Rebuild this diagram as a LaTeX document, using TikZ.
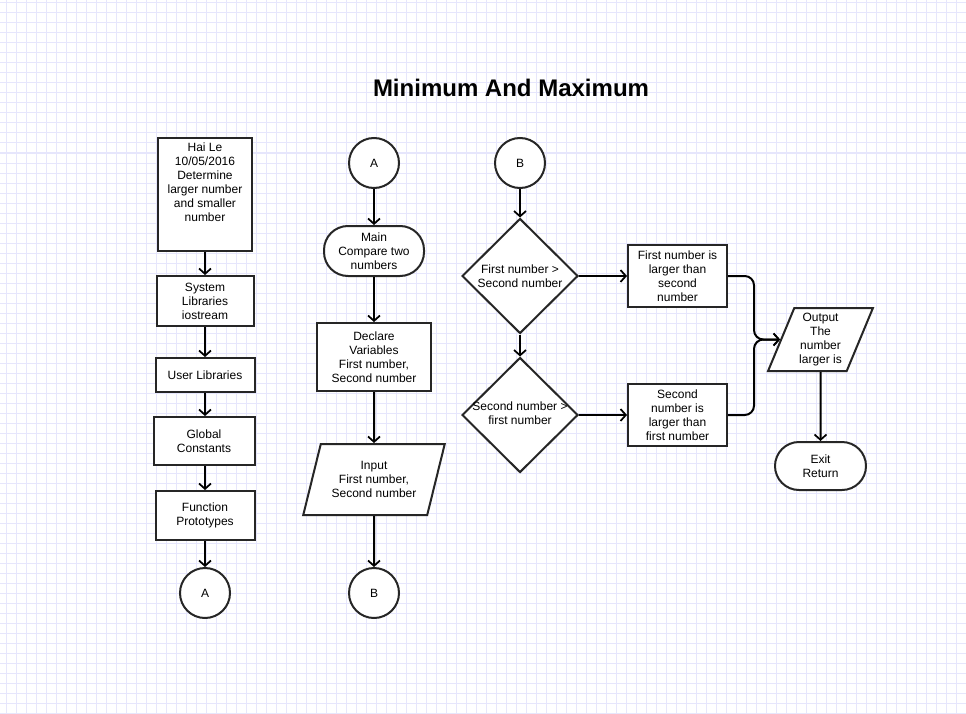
\documentclass[tikz,border=0pt]{standalone}
\usepackage{fontspec}
\setmainfont{Liberation Sans}
\usetikzlibrary{arrows.meta,shapes.geometric}
\definecolor{gridc}{RGB}{230,230,252}
\tikzset{
  x=0.75pt, y=-0.75pt,
  every node/.style={font=\fontsize{9}{10.5}\selectfont, align=center, inner sep=0pt},
  shp/.style={draw=black!85, line width=1.5pt, fill=white},
  box/.style={shp, rectangle},
  term/.style={shp, rectangle, rounded corners=18pt},
  conn/.style={shp, circle, minimum size=37.5pt},
  dia/.style={shp, diamond, minimum width=87pt, minimum height=86.25pt},
  para/.style={shp, trapezium, trapezium stretches=true},
  arr/.style={line width=1.5pt, draw=black, -{Straight Barb[length=4pt,width=9pt,line width=1.3pt]}},
}
\begin{document}
\begin{tikzpicture}
\useasboundingbox (0,0) rectangle (966,713);
\fill[white] (0,0) rectangle (966,713);
\foreach \i in {0,...,96} { \draw[gridc, line width=0.75pt] (6+10*\i,0) -- (6+10*\i,713); }
\foreach \i in {0,...,71} { \draw[gridc, line width=0.75pt] (0,3+10*\i) -- (966,3+10*\i); }

\node[font=\bfseries\fontsize{18}{21}\selectfont] (title) at (511,88) {Minimum And Maximum};

% column 1
\node[box, minimum width=70.5pt, minimum height=84.75pt] (info) at (205,194.5) {};
\node[anchor=north] (infot) at ([yshift=-4pt]info.north) {Hai Le\\10/05/2016\\Determine\\larger number\\and smaller\\number};
\node[box, minimum width=72.75pt, minimum height=37.5pt] (sys) at (205,301) {System\\Libraries\\iostream};
\node[box, minimum width=74.25pt, minimum height=25.5pt] (usr) at (205,375) {User Libraries};
\node[box, minimum width=75.75pt, minimum height=36pt] (glob) at (204,441) {Global\\Constants};
\node[box, minimum width=74.25pt, minimum height=36.75pt] (proto) at (205,515.5) {Function\\Prototypes};
\node[conn] (a1) at (205,593) {A};

\draw[arr] (info.south) -- (sys.north);
\draw[arr] (sys.south) -- (usr.north);
\draw[arr] (usr.south) -- (usr.south |- glob.north);
\draw[arr] (usr.south |- glob.south) -- (usr.south |- proto.north);
\draw[arr] (proto.south) -- (a1.north);

% column 2
\node[conn] (a2) at (374,163) {A};
\node[term, minimum width=75pt, minimum height=37.5pt] (main) at (374,251) {Main\\Compare two\\numbers};
\node[box, minimum width=85.5pt, minimum height=51pt] (decl) at (374,357) {Declare\\Variables\\First number,\\Second number};
\node[para, minimum width=106.5pt, minimum height=53.25pt, trapezium left angle=69, trapezium right angle=111] (inp) at (374,479.5) {Input\\First number,\\Second number};
\node[conn] (b1) at (374,593) {B};

\draw[arr] (a2.south) -- (main.north);
\draw[arr] (main.south) -- (decl.north);
\draw[arr] (decl.south) -- (inp.north);
\draw[arr] (inp.south) -- (b1.north);

% column 3
\node[conn] (b2) at (520,163) {B};
\node[dia] (d1) at (520,276) {};
\node (d1t) at (d1.center) {First number >\\Second number};
\node[dia] (d2) at (520,415) {};
\node (d2t) at ([yshift=1pt]d2.center) {Second number >\\first number};
\node[box, minimum width=74.25pt, minimum height=46.5pt] (r1) at (677.5,276) {First number is\\larger than\\second\\number};
\node[box, minimum width=74.25pt, minimum height=46.5pt] (r2) at (677.5,415) {Second\\number is\\larger than\\first number};
\node[para, minimum width=78.75pt, minimum height=47.25pt, trapezium left angle=68, trapezium right angle=112] (out) at (820.5,339.5) {Output\\The\\number\\larger is};
\node[term, minimum width=68.25pt, minimum height=36pt] (exit) at (820.5,466) {Exit\\Return};
\coordinate (j) at (754,339.5);

\draw[arr] (b2.south) -- (d1.north);
\draw[arr] (d1.south) -- (d2.north);
\draw[arr] (d1.east) -- (r1.west);
\draw[arr] (d2.east) -- (r2.west);
\draw[arr, rounded corners=7pt] (r1.east) -| (j) -- (out.west);
\draw[arr, rounded corners=7pt] (r2.east) -| (j) -- (out.west);
\draw[arr] (out.south) -- (exit.north);
\end{tikzpicture}
\end{document}
